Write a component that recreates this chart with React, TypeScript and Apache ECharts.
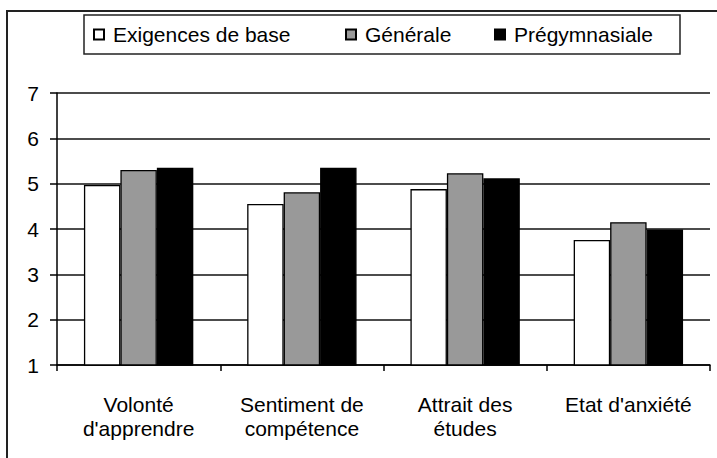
import React, { useEffect, useRef } from "react";
import * as echarts from "echarts";

const categories = [
  "Volonté\nd'apprendre",
  "Sentiment de\ncompétence",
  "Attrait des\nétudes",
  "Etat d'anxiété",
];
const seriesNames = ["Exigences de base", "Générale", "Prégymnasiale"];
const basicValues = [4.97, 4.55, 4.88, 3.76];
const generalValues = [5.3, 4.81, 5.23, 4.15];
const pregymValues = [5.35, 5.35, 5.12, 3.99];
const seriesColors = ["#ffffff", "#999999", "#000000"];
const yMin = 1;
const yMax = 7;
const yInterval = 1;

const FONT = "'Liberation Sans', Arial, sans-serif";

export default function App() {
  const ref = useRef<HTMLDivElement>(null);
  useEffect(() => {
    if (!ref.current) return;
    const chart = echarts.init(ref.current, undefined, { renderer: "svg" });
    const values = [basicValues, generalValues, pregymValues];
    const legendLefts = [93, 345, 494];
    chart.setOption({
      animation: false,
      backgroundColor: "#ffffff",
      grid: { left: 57, right: 7, top: 93, bottom: 93, containLabel: false },
      legend: seriesNames.map((n, i) => ({
        data: [n],
        left: legendLefts[i],
        top: 24,
        padding: 0,
        itemWidth: 10,
        itemHeight: 10,
        selectedMode: false,
        icon: "rect",
        textStyle: {
          fontSize: 21,
          fontFamily: FONT,
          color: "#000",
          padding: [0, 0, 0, 4],
        },
      })),
      xAxis: {
        type: "category",
        data: categories,
        boundaryGap: true,
        axisLine: { show: true, lineStyle: { color: "#000", width: 1.5 } },
        axisTick: { show: true, length: 6, alignWithLabel: false, lineStyle: { color: "#000", width: 1.5 } },
        axisLabel: {
          margin: 27,
          fontSize: 21,
          lineHeight: 24,
          fontFamily: FONT,
          color: "#000",
          interval: 0,
        },
      },
      yAxis: {
        type: "value",
        min: yMin,
        max: yMax,
        interval: yInterval,
        axisLine: { show: true, lineStyle: { color: "#000", width: 1.5 } },
        axisTick: { show: true, length: 7, lineStyle: { color: "#000", width: 1.5 } },
        axisLabel: { margin: 18, fontSize: 21, fontFamily: FONT, color: "#000" },
        splitLine: { show: true, lineStyle: { color: "#111", width: 1.6 } },
      },
      series: seriesNames.map((n, i) => ({
        name: n,
        type: "bar",
        data: values[i],
        barGap: "0%",
        barCategoryGap: "33%",
        silent: true,
        itemStyle: { color: seriesColors[i], borderColor: "#000", borderWidth: 1.3 },
      })),
      graphic: [
        {
          type: "rect",
          shape: { x: 7, y: 11, width: 740, height: 480 },
          style: { fill: "none", stroke: "#222", lineWidth: 2 },
          silent: true,
        },
        {
          type: "rect",
          shape: { x: 84, y: 15, width: 596, height: 39 },
          style: { fill: "none", stroke: "#222", lineWidth: 1.5 },
          silent: true,
        },
      ],
    });
    return () => chart.dispose();
  }, []);
  return (
    <div
      ref={ref}
      style={{ position: "fixed", left: 0, top: 0, width: 717, height: 458 }}
    />
  );
}
